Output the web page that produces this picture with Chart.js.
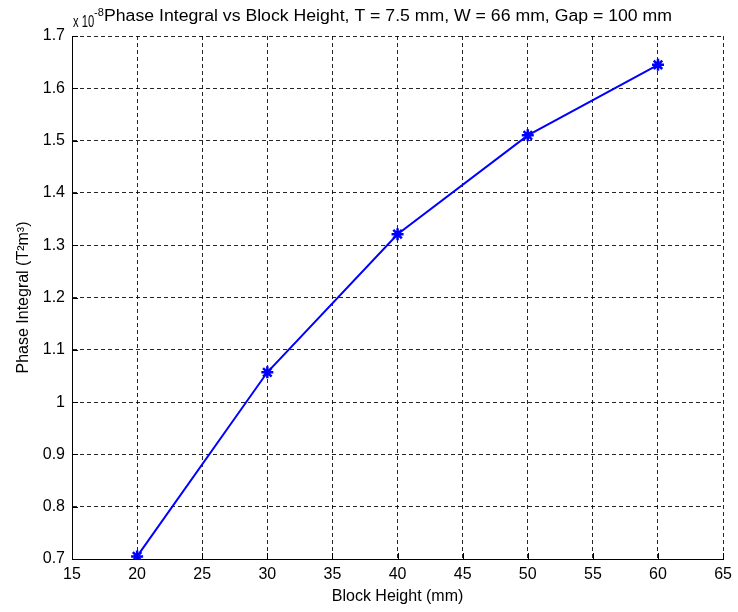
<!DOCTYPE html>
<html>
<head>
<meta charset="utf-8">
<script src="https://cdn.jsdelivr.net/npm/chart.js@4.4.0/dist/chart.umd.min.js"></script>
<style>
html,body{margin:0;padding:0;background:#fff;}
#wrap{width:738px;height:612px;position:relative;}
</style>
</head>
<body>
<div id="wrap"><canvas id="c" width="738" height="612"></canvas></div>
<script>
const blockHeights = [20, 30, 40, 50, 60];
const phaseIntegral = [0.705, 1.057, 1.321, 1.510, 1.645];
const xTicks = [15, 20, 25, 30, 35, 40, 45, 50, 55, 60, 65];
const xTickLabels = ['15','20','25','30','35','40','45','50','55','60','65'];
const yTicks = [0.7, 0.8, 0.9, 1.0, 1.1, 1.2, 1.3, 1.4, 1.5, 1.6, 1.7];
const yTickLabels = ['0.7','0.8','0.9','1','1.1','1.2','1.3','1.4','1.5','1.6','1.7'];
const titleText = 'Phase Integral vs Block Height, T = 7.5 mm, W = 66 mm, Gap = 100 mm';
const xTitle = 'Block Height (mm)';
const yTitle = 'Phase Integral (T\u00B2m\u00B3)';
const expBase = 'x 10';
const expPower = '-8';

const FONT = '"Liberation Sans", Arial, sans-serif';
const FS = 16;

const decor = {
  id: 'decor',
  afterDraw(chart) {
    const ctx = chart.ctx;
    const a = chart.chartArea;
    const xs = chart.scales.x, ys = chart.scales.y;
    ctx.save();
    // inward ticks
    ctx.strokeStyle = '#000';
    ctx.lineWidth = 1;
    ctx.beginPath();
    xTicks.forEach(v => {
      const px = Math.round(xs.getPixelForValue(v)) + 0.5;
      ctx.moveTo(px, a.bottom);
      ctx.lineTo(px, a.bottom - 6);
    });
    yTicks.forEach(v => {
      const py = Math.round(ys.getPixelForValue(v)) + 0.5;
      ctx.moveTo(a.left, py);
      ctx.lineTo(a.left + 6, py);
    });
    ctx.stroke();
    // title, fitted to span 103..672
    ctx.fillStyle = '#000';
    ctx.font = FS + 'px ' + FONT;
    ctx.textBaseline = 'alphabetic';
    ctx.textAlign = 'left';
    const tw = ctx.measureText(titleText).width;
    ctx.save();
    ctx.translate(104, 21);
    ctx.scale(568 / tw, 1);
    ctx.fillText(titleText, 0, 0);
    ctx.restore();
    // exponent
    ctx.font = '16px ' + FONT;
    ctx.save();
    ctx.translate(73, 27);
    ctx.scale(0.7, 1);
    ctx.fillText(expBase, 0, 0);
    ctx.restore();
    ctx.font = '11px ' + FONT;
    ctx.fillText(expPower, 94, 16);
    // axis titles
    ctx.font = FS + 'px ' + FONT;
    ctx.textAlign = 'center';
    ctx.textBaseline = 'middle';
    ctx.fillText(xTitle, (a.left + a.right) / 2, 597);
    ctx.translate(24, (a.top + a.bottom) / 2);
    ctx.rotate(-Math.PI / 2);
    ctx.fillText(yTitle, 0, 0);
    ctx.restore();
  }
};

new Chart(document.getElementById('c'), {
  type: 'line',
  data: {
    datasets: [{
      data: blockHeights.map((x, i) => ({x: x, y: phaseIntegral[i]})),
      borderColor: '#0000ff',
      backgroundColor: '#0000ff',
      borderWidth: 2,
      pointStyle: 'star',
      pointRadius: 6,
      pointBorderWidth: 2.5,
      pointBorderColor: '#0000ff',
      tension: 0,
      fill: false
    }]
  },
  options: {
    responsive: false,
    animation: false,
    devicePixelRatio: 1,
    layout: { padding: { top: 36, right: 10, left: 0, bottom: 0 }, autoPadding: false },
    plugins: { legend: { display: false }, title: { display: false }, tooltip: { enabled: false } },
    scales: {
      x: {
        type: 'linear',
        min: 15, max: 65,
        afterBuildTicks: s => { s.ticks = xTicks.map(v => ({value: v})); },
        afterFit: s => { s.height = 53; },
        ticks: {
          color: '#000',
          font: { family: FONT, size: FS },
          padding: 6,
          maxRotation: 0,
          callback: (v) => xTickLabels[xTicks.indexOf(v)]
        },
        grid: { color: 'rgba(0,0,0,0.85)', lineWidth: 1, drawTicks: false },
        border: { display: true, color: '#000', width: 1, dash: [4, 3] }
      },
      y: {
        type: 'linear',
        min: 0.7, max: 1.7,
        afterBuildTicks: s => { s.ticks = yTicks.map(v => ({value: v})); },
        afterFit: s => { s.width = 72; },
        ticks: {
          color: '#000',
          font: { family: FONT, size: FS },
          padding: 7,
          callback: (v) => {
            const i = yTicks.findIndex(t => Math.abs(t - v) < 1e-9);
            return i >= 0 ? yTickLabels[i] : '';
          }
        },
        grid: { color: 'rgba(0,0,0,0.85)', lineWidth: 1, drawTicks: false },
        border: { display: true, color: '#000', width: 1, dash: [4, 3] }
      }
    }
  },
  plugins: [decor]
});
</script>
</body>
</html>
